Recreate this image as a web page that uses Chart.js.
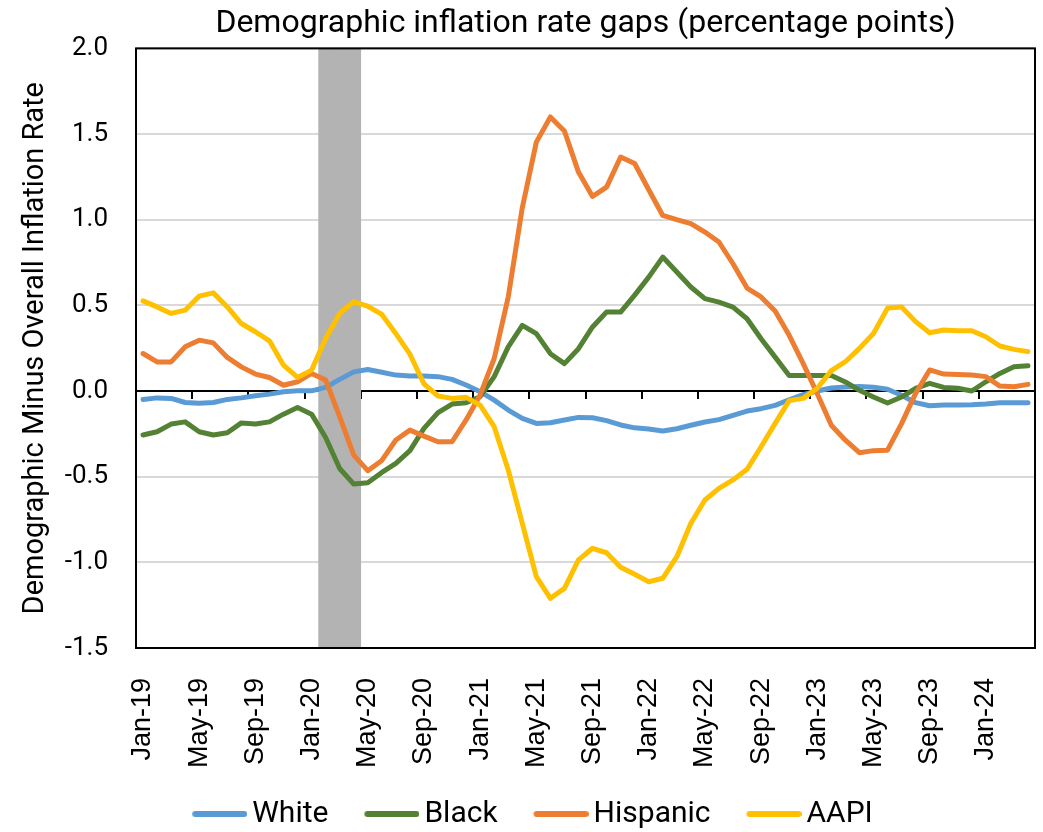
<!DOCTYPE html>
<html>
<head>
<meta charset="utf-8">
<title>Demographic inflation rate gaps</title>
<script src="https://cdn.jsdelivr.net/npm/chart.js@4.4.1/dist/chart.umd.min.js"></script>
<style>
  html, body { margin: 0; padding: 0; background: #fff; }
  #chart { display: block; }
</style>
</head>
<body>
<canvas id="chart" width="1043" height="832"></canvas>
<script>
const monthNames = ['Jan', 'Feb', 'Mar', 'Apr', 'May', 'Jun', 'Jul', 'Aug', 'Sep', 'Oct', 'Nov', 'Dec'];
const years = ['19', '20', '21', '22', '23', '24'];
const categories = years.flatMap((yr) => monthNames.map((m) => `${m}-${yr}`)).slice(0, 64);

const xTickLabels = ['Jan-19', 'May-19', 'Sep-19', 'Jan-20', 'May-20', 'Sep-20', 'Jan-21', 'May-21',
  'Sep-21', 'Jan-22', 'May-22', 'Sep-22', 'Jan-23', 'May-23', 'Sep-23', 'Jan-24'];
const yTickValues = [-1.5, -1.0, -0.5, 0, 0.5, 1.0, 1.5, 2.0];
const recessionMonths = ['Feb-20', 'Mar-20', 'Apr-20'];

const white = [
  -0.049, -0.040, -0.043, -0.067, -0.072, -0.067, -0.049, -0.040, -0.028, -0.018, -0.004, 0.001,
  0.001, 0.021, 0.068, 0.112, 0.126, 0.110, 0.093, 0.088, 0.088, 0.084, 0.068, 0.035,
  -0.004, -0.053, -0.111, -0.160, -0.189, -0.185, -0.169, -0.154, -0.156, -0.173, -0.198, -0.215,
  -0.222, -0.233, -0.220, -0.200, -0.181, -0.167, -0.142, -0.117, -0.103, -0.084, -0.051, -0.021,
  0.000, 0.018, 0.023, 0.027, 0.022, 0.010, -0.025, -0.068, -0.086, -0.082, -0.082, -0.080,
  -0.076, -0.068, -0.068, -0.068
];
const black = [
  -0.257, -0.238, -0.193, -0.180, -0.238, -0.257, -0.244, -0.186, -0.193, -0.180, -0.135, -0.096,
  -0.135, -0.271, -0.452, -0.543, -0.535, -0.475, -0.422, -0.348, -0.218, -0.126, -0.076, -0.068,
  -0.033, 0.084, 0.258, 0.383, 0.335, 0.218, 0.160, 0.247, 0.374, 0.461, 0.461, 0.560,
  0.665, 0.782, 0.695, 0.607, 0.539, 0.519, 0.490, 0.422, 0.305, 0.198, 0.091, 0.091,
  0.091, 0.091, 0.053, 0.004, -0.035, -0.070, -0.035, 0.016, 0.045, 0.021, 0.016, 0.000,
  0.054, 0.103, 0.142, 0.148
];
const hispanic = [
  0.219, 0.170, 0.170, 0.258, 0.297, 0.281, 0.196, 0.141, 0.099, 0.079, 0.034, 0.054,
  0.103, 0.064, -0.150, -0.374, -0.465, -0.405, -0.286, -0.228, -0.263, -0.296, -0.296, -0.169,
  -0.023, 0.190, 0.549, 1.070, 1.453, 1.600, 1.518, 1.278, 1.136, 1.190, 1.366, 1.328,
  1.175, 1.025, 1.000, 0.977, 0.928, 0.870, 0.743, 0.601, 0.549, 0.467, 0.325, 0.160,
  -0.016, -0.200, -0.287, -0.360, -0.348, -0.345, -0.190, -0.014, 0.123, 0.099, 0.097, 0.093,
  0.084, 0.029, 0.025, 0.039
];
const aapi = [
  0.526, 0.491, 0.453, 0.472, 0.554, 0.573, 0.491, 0.394, 0.346, 0.293, 0.151, 0.079,
  0.122, 0.307, 0.453, 0.521, 0.495, 0.447, 0.335, 0.215, 0.042, -0.029, -0.043, -0.037,
  -0.082, -0.208, -0.461, -0.772, -1.084, -1.210, -1.152, -0.986, -0.918, -0.944, -1.029, -1.070,
  -1.113, -1.093, -0.967, -0.772, -0.636, -0.568, -0.519, -0.457, -0.325, -0.189, -0.056, -0.043,
  0.016, 0.119, 0.171, 0.249, 0.336, 0.484, 0.491, 0.405, 0.340, 0.356, 0.352, 0.352,
  0.317, 0.263, 0.243, 0.230
];

const yMin = yTickValues[0];
const yMax = yTickValues[yTickValues.length - 1];
const recessionBars = categories.map((c) => (recessionMonths.includes(c) ? [yMin, yMax] : null));

Chart.defaults.font.family = 'Roboto';
Chart.defaults.color = '#000';

// legend swatch: rounded line that sits just left of the text
const legendSwatch = (color) => {
  const c = document.createElement('canvas');
  c.width = 95;
  c.height = 10;
  const g = c.getContext('2d');
  g.strokeStyle = color;
  g.lineWidth = 6;
  g.lineCap = 'round';
  g.beginPath();
  g.moveTo(43, 5);
  g.lineTo(92, 5);
  g.stroke();
  return c;
};

const lineSeries = (label, data, color, order) => ({
  type: 'line',
  label,
  data,
  borderColor: color,
  backgroundColor: color,
  borderWidth: 5,
  borderJoinStyle: 'round',
  borderCapStyle: 'round',
  pointRadius: 0,
  tension: 0,
  fill: false,
  order,
});

const plotFrame = {
  id: 'plotFrame',
  beforeDatasetsDraw(chart) {
    const { ctx, scales: { x, y } } = chart;
    const zeroY = y.getPixelForValue(0);
    ctx.save();
    ctx.strokeStyle = '#000';
    ctx.lineWidth = 2;
    ctx.beginPath();
    for (let i = 4; i < categories.length; i += 4) {
      const tx = Math.round((x.getPixelForValue(i - 1) + x.getPixelForValue(i)) / 2);
      ctx.moveTo(tx, zeroY);
      ctx.lineTo(tx, zeroY + 8);
    }
    ctx.stroke();
    ctx.restore();
  },
  afterDatasetsDraw(chart) {
    const { ctx, chartArea: a } = chart;
    ctx.save();
    ctx.strokeStyle = '#000';
    ctx.lineWidth = 2;
    ctx.strokeRect(a.left, a.top, a.width, a.height);
    ctx.restore();
  },
};

new Chart(document.getElementById('chart'), {
  type: 'line',
  data: {
    labels: categories,
    datasets: [
      lineSeries('White', white, '#5B9BD5', 4),
      lineSeries('Black', black, '#548235', 3),
      lineSeries('Hispanic', hispanic, '#ED7D31', 2),
      lineSeries('AAPI', aapi, '#FFC000', 1),
      {
        type: 'bar',
        label: 'Recession',
        data: recessionBars,
        backgroundColor: '#B3B3B3',
        borderWidth: 0,
        barPercentage: 1,
        categoryPercentage: 1,
        order: 5,
      },
    ],
  },
  options: {
    responsive: false,
    animation: false,
    events: [],
    layout: { padding: { top: 0, right: 8, bottom: -7, left: 0 } },
    plugins: {
      tooltip: { enabled: false },
      title: {
        display: true,
        text: 'Demographic inflation rate gaps (percentage points)',
        fullSize: false,
        color: '#000',
        font: { size: 32, weight: 'normal' },
        padding: { top: 5, bottom: 5 },
      },
      legend: {
        position: 'bottom',
        labels: {
          usePointStyle: true,
          pointStyleWidth: 75,
          padding: 6,
          color: '#000',
          font: { size: 30 },
          generateLabels: (chart) => chart.data.datasets
            .map((ds, i) => ({
              text: ds.label,
              pointStyle: legendSwatch(ds.borderColor),
              fillStyle: ds.borderColor,
              strokeStyle: ds.borderColor,
              lineWidth: 0,
              hidden: false,
              datasetIndex: i,
              fontColor: '#000',
            }))
            .filter((item) => chart.data.datasets[item.datasetIndex].type !== 'bar'),
        },
      },
    },
    scales: {
      x: {
        type: 'category',
        offset: true,
        grid: { display: false },
        border: { display: false },
        afterFit: (scale) => {
          scale.height = 145;
          scale.paddingLeft = 0;
          scale.paddingRight = 0;
        },
        ticks: {
          autoSkip: false,
          minRotation: 90,
          maxRotation: 90,
          padding: 22,
          color: '#000',
          font: { family: 'Liberation Sans', size: 27 },
          callback: function (value) {
            const label = this.getLabelForValue(value);
            return xTickLabels.includes(label) ? label : '';
          },
        },
      },
      y: {
        min: yMin,
        max: yMax,
        afterBuildTicks: (scale) => { scale.ticks = yTickValues.map((v) => ({ value: v })); },
        afterFit: (scale) => { scale.width = 136; },
        border: { display: false },
        grid: {
          drawTicks: false,
          lineWidth: 2,
          color: (ctx) => (ctx.tick && ctx.tick.value === 0 ? '#000' : '#D9D9D9'),
        },
        ticks: {
          padding: 28,
          color: '#000',
          font: { size: 26 },
          callback: (value) => Number(value).toFixed(1),
        },
        title: {
          display: true,
          text: 'Demographic Minus Overall Inflation Rate',
          color: '#000',
          font: { size: 29 },
          padding: { top: 18, bottom: 0 },
        },
      },
    },
  },
  plugins: [plotFrame],
});
</script>
</body>
</html>
